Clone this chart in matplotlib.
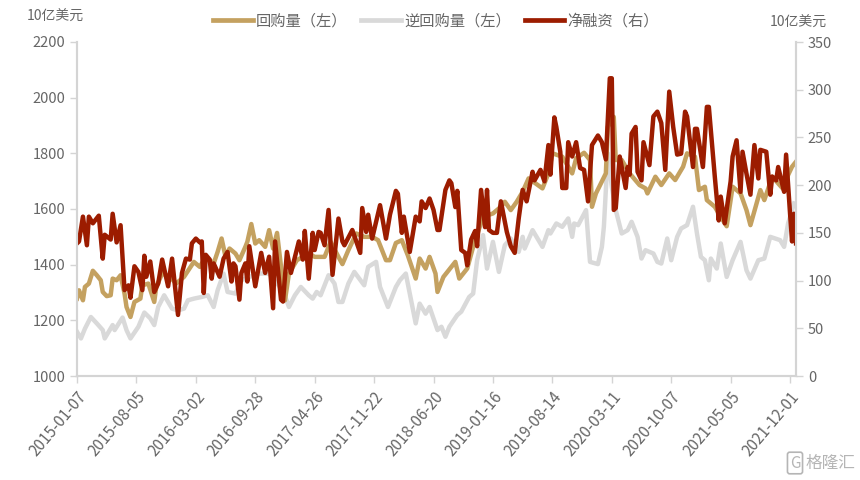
import matplotlib
matplotlib.use("Agg")
import matplotlib.pyplot as plt
from matplotlib.lines import Line2D

plt.rcParams['font.family'] = ['Noto Sans CJK SC', 'DejaVu Sans']

# values, x is weeks since 2015-01-07
repo_weeks = [0,1,3,4,6,8,10,12,13,15,17,18,20,22,24,25,27,29,32,33,36,39,40,43,47,50,54,59,62,65,69,71,73,75,77,80,82,85,86,88,90,92,95,97,99,101,103,105,107,111,117,120,125,128,132,134,137,141,145,149,152,156,158,161,164,167,171,173,176,178,181,182,185,191,193,197,200,205,210,214,216,219,222,225,228,235,238,240,245,250,252,256,259,260,262,267,268,271,272,275,279,284,287,288,292,295,299,302,306,308,312,314,317,318,322,325,328,331,335,338,340,345,347,351,357,359,361,363]
repo = [1278,1308,1272,1320,1332,1378,1362,1344,1302,1287,1290,1350,1344,1362,1296,1248,1212,1266,1278,1326,1332,1266,1320,1368,1356,1332,1356,1410,1392,1428,1404,1446,1494,1428,1458,1440,1416,1464,1482,1546,1476,1488,1464,1524,1458,1514,1392,1272,1368,1416,1440,1428,1428,1482,1428,1402,1452,1512,1500,1500,1488,1416,1416,1478,1488,1434,1350,1422,1386,1428,1368,1302,1356,1410,1350,1386,1464,1572,1584,1608,1626,1596,1626,1662,1710,1674,1728,1800,1788,1728,1782,1802,1776,1608,1656,1728,1895,1931,1776,1776,1728,1686,1674,1656,1716,1686,1728,1704,1752,1800,1788,1668,1680,1632,1608,1572,1538,1680,1656,1596,1542,1668,1632,1716,1668,1722,1752,1770]

reverse_weeks = [0,2,4,7,10,13,14,18,19,23,25,27,31,34,37,39,41,44,48,51,54,56,59,63,66,69,71,74,76,80,83,87,92,97,101,104,107,110,113,117,119,121,123,127,130,132,134,137,140,145,147,151,153,157,161,163,166,168,171,173,176,178,182,184,186,188,192,194,198,200,202,205,207,210,213,216,219,223,225,226,230,235,238,239,242,245,248,250,251,253,257,259,263,265,266,268,270,272,275,278,280,283,285,287,291,293,295,298,300,303,305,308,311,313,315,317,319,320,323,325,328,331,335,338,340,344,347,350,355,357,359,362]
reverse = [1159,1135,1170,1212,1189,1165,1135,1183,1165,1210,1165,1135,1177,1228,1207,1183,1248,1290,1242,1236,1242,1272,1278,1284,1290,1248,1308,1368,1302,1296,1344,1356,1368,1368,1332,1308,1248,1290,1320,1290,1278,1302,1290,1362,1332,1266,1266,1332,1374,1326,1392,1410,1320,1248,1320,1344,1368,1296,1189,1260,1224,1248,1165,1177,1141,1177,1219,1231,1284,1296,1416,1506,1386,1482,1374,1470,1494,1446,1500,1458,1524,1464,1524,1512,1548,1536,1566,1500,1548,1542,1596,1410,1402,1464,1536,1800,1680,1596,1512,1524,1554,1500,1422,1452,1440,1410,1404,1494,1416,1500,1530,1542,1608,1512,1428,1416,1344,1422,1386,1476,1356,1416,1482,1380,1350,1416,1422,1500,1488,1464,1548,1620]

net_weeks = [0,1,3,5,6,8,11,13,14,17,18,20,22,24,26,27,29,31,33,34,35,37,39,41,43,46,48,51,53,55,57,58,60,62,63,64,65,67,68,69,72,74,76,78,79,80,82,83,85,86,87,90,
             93,95,97,99,100,103,104,106,108,112,114,115,117,119,120,122,123,125,127,129,132,134,135,139,143,144,146,147,149,153,156,158,161,162,164,165,168,171,173,174,176,178,180,182,183,186,188,189,191,192,194,
             196,197,199,201,202,204,206,207,208,210,212,214,217,219,221,223,225,227,230,231,234,236,238,
             239,241,242,244,245,247,248,250,252,254,256,258,260,263,265,267,269,270,271,272,274,277,278,279,280,282,283,285,286,289,291,293,295,297,299,301,303,305,307,308,311,312,313,316,318,319,322,324,325,327,
             330,331,333,335,336,338,340,342,344,345,348,350,351,353,354,357,358,360,361,362,363]
net = [139,141,167,137,167,160,168,123,148,143,170,140,158,90,95,82,115,109,90,126,104,120,88,97,122,94,123,64,108,123,122,139,144,140,141,87,127,122,102,118,104,123,130,99,118,115,80,108,118,99,136,94,
       129,108,125,71,141,80,78,130,108,141,122,152,102,150,132,151,150,137,174,106,165,141,137,153,129,176,151,169,144,179,144,169,194,191,150,167,130,167,162,183,176,186,174,153,153,195,205,202,177,194,132,
       129,116,143,152,136,195,156,195,153,150,150,183,151,136,129,165,195,183,214,205,216,204,242,
       211,271,261,235,197,197,245,230,245,218,216,183,242,252,245,227,312,312,174,176,230,197,219,211,254,261,214,205,245,221,272,277,265,216,298,261,232,233,277,272,219,259,259,219,282,282,209,163,188,160,
       204,230,247,193,235,212,190,242,207,237,235,190,209,205,219,193,232,170,141,170,139]

tick_weeks = list(range(0, 361, 30))
tick_dates = ["2015-01-07","2015-08-05","2016-03-02","2016-09-28","2017-04-26","2017-11-22","2018-06-20",
              "2019-01-16","2019-08-14","2020-03-11","2020-10-07","2021-05-05","2021-12-01"]

gold = '#c4a160'
grey = '#d9d9d9'
red = '#9c1c00'
text_col = '#666666'

fig = plt.figure(figsize=(8.6, 4.8), dpi=100)
ax = fig.add_axes([77/860, 1-376/480, (796-77)/860, (376-42)/480])
ax2 = ax.twinx()

ax.plot(reverse_weeks, reverse, color=grey, lw=3.2, solid_joinstyle='round')
ax.plot(repo_weeks, repo, color=gold, lw=3.2, solid_joinstyle='round')
ax2.plot(net_weeks, net, color=red, lw=3.2, solid_joinstyle='round')

ax.set_xlim(0, 363)
ax.set_ylim(1000, 2200)
ax.set_yticks(range(1000, 2201, 200))
ax2.set_ylim(0, 350)
ax2.set_yticks(range(0, 351, 50))
ax.set_xticks(tick_weeks)
ax.set_xticklabels(tick_dates, rotation=50, ha='right', rotation_mode='anchor')

for a in (ax, ax2):
    a.spines['top'].set_visible(False)
    for s in ('left', 'right', 'bottom'):
        a.spines[s].set_color('#d4d4d4')
        a.spines[s].set_linewidth(1.5)
    a.tick_params(colors=text_col, color='#d4d4d4', length=5, width=1, labelsize=10.5)
ax.tick_params(axis='x', labelsize=11, pad=4)

fig.text(27/860, 1-17/480, "10亿美元", fontsize=10, color=text_col, va='center')
fig.text(770/860, 1-23/480, "10亿美元", fontsize=10, color=text_col, va='center')
# watermark in the lower corner
fig.text(855/860, 1-463/480, "格隆汇", fontsize=12, color='#b5b5b5', va='center', ha='right')
fig.text(795/860, 1-463/480, "G", fontsize=11, color='#b5b5b5', va='center', ha='center',
         bbox=dict(boxstyle='round,pad=0.15', fc='none', ec='#b5b5b5', lw=1.2))

handles = [Line2D([], [], color=gold, lw=3.4), Line2D([], [], color=grey, lw=3.4), Line2D([], [], color=red, lw=3.4)]
labels = ["回购量（左）", "逆回购量（左）", "净融资（右）"]
fig.legend(handles, labels, ncol=3, loc='center', bbox_to_anchor=(436/860, 1-21/480), frameon=False,
           fontsize=11, labelcolor=text_col, handlelength=2.6, handletextpad=0.2, columnspacing=0.9)

fig.savefig('out.png', dpi=100)
